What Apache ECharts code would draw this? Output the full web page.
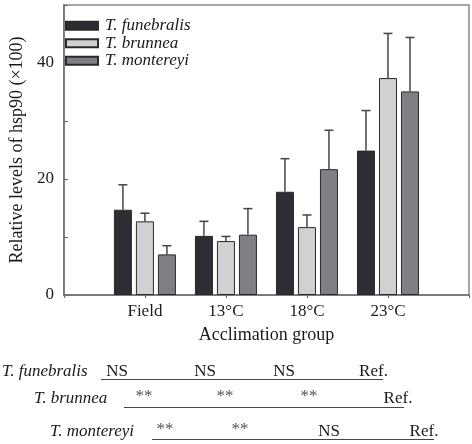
<!DOCTYPE html>
<html>
<head>
<meta charset="utf-8">
<script src="https://cdn.jsdelivr.net/npm/echarts@6/dist/echarts.min.js"></script>
<style>
  html, body { margin: 0; padding: 0; background: #fff; }
  #chart { width: 472px; height: 444px; }
</style>
</head>
<body>
<div id="chart"></div>
<script>
// groups on the x axis (empty slots at both ends keep the spacing of the original)
var groups = ['', 'Field', '13°C', '18°C', '23°C', ''];
var species = ['T. funebralis', 'T. brunnea', 'T. montereyi'];
// mean levels per group (Field, 13, 18, 23)
var funebralis = [14.7, 10.2, 17.8, 24.9];
var brunnea = [12.7, 9.3, 11.7, 37.4];
var montereyi = [7.0, 10.4, 21.7, 35.1];
// top of the error bars
var funebralisErr = [19.0, 12.7, 23.5, 31.8];
var brunneaErr = [14.1, 10.1, 13.8, 45.1];
var montereyiErr = [8.5, 14.9, 28.4, 44.4];
var yTicks = [0, 20, 40];
// significance rows under the chart
var sigRows = [
    ['NS', 'NS', 'NS', 'Ref.'],
    ['**', '**', '**', 'Ref.'],
    ['**', '**', 'NS', 'Ref.']
];

var font = '"Liberation Serif", "DejaVu Serif", serif';
var colors = ['#2d2e33', '#d1d1d3', '#808084'];
var BAR_W = 18, GAP = 4;

function pad(arr) {
    return [null].concat(arr, [null]);
}

function errData(vals, errs) {
    return vals.map(function (v, i) {
        return [groups[i + 1], v, errs[i]];
    });
}

function errSeries(idx, vals, errs) {
    var offset = (idx - 1) * (BAR_W + GAP);
    return {
        type: 'custom',
        z: 5,
        silent: true,
        data: errData(vals, errs),
        renderItem: function (params, api) {
            var base = api.coord([api.value(0), api.value(1)]);
            var top = api.coord([api.value(0), api.value(2)]);
            var x = base[0] + offset;
            var st = { stroke: '#444', lineWidth: 1.5 };
            return {
                type: 'group',
                children: [
                    { type: 'line', shape: { x1: x, y1: base[1], x2: x, y2: top[1] }, style: st },
                    { type: 'line', shape: { x1: x - 4.5, y1: top[1], x2: x + 4.5, y2: top[1] }, style: st }
                ]
            };
        }
    };
}

function barSeries(idx, vals) {
    return {
        name: species[idx],
        type: 'bar',
        barWidth: BAR_W,
        barGap: (GAP / BAR_W * 100) + '%',
        data: pad(vals),
        itemStyle: { color: colors[idx], borderColor: '#2a2a2a', borderWidth: 1 }
    };
}

// bottom annotation layout
var rowSpecies = [
    { x: 2, y: 371.5, line: [101, 383, 379.5], pos: [117, 205, 284, 373.5] },
    { x: 34, y: 399, line: [124, 404, 407.5], pos: [144, 225, 309, 398] },
    { x: 50, y: 431.5, line: [152, 434, 439.5], pos: [165, 240, 329, 424] }
];
var graphics = [];
rowSpecies.forEach(function (r, i) {
    graphics.push({
        type: 'text', x: r.x, y: r.y,
        style: { text: species[i], font: 'italic 17px ' + font, fill: '#1a1a1a', verticalAlign: 'middle' }
    });
    graphics.push({
        type: 'line',
        shape: { x1: r.line[0], y1: r.line[2], x2: r.line[1], y2: r.line[2] },
        style: { stroke: '#444', lineWidth: 1 }
    });
    sigRows[i].forEach(function (t, j) {
        var star = t === '**';
        graphics.push({
            type: 'text', x: r.pos[j], y: star ? r.y - 2 : r.y,
            style: {
                text: t, font: '17px ' + font, fill: star ? '#555' : '#1a1a1a',
                align: 'center', verticalAlign: 'middle'
            }
        });
    });
});

var chart = echarts.init(document.getElementById('chart'));
chart.setOption({
    animation: false,
    backgroundColor: '#fff',
    textStyle: { fontFamily: font },
    grid: {
        left: 57, right: 3, top: 5, bottom: 149,
        show: true, borderColor: '#8a8a8a', borderWidth: 1.5
    },
    legend: {
        orient: 'vertical',
        left: 60, top: 12,
        itemWidth: 32, itemHeight: 8, itemGap: 0,
        icon: 'rect',
        data: species,
        textStyle: { fontFamily: font, fontStyle: 'italic', fontSize: 17, color: '#1a1a1a', lineHeight: 17.5, padding: [0, 0, 0, 2] }
    },
    xAxis: {
        type: 'category',
        data: groups,
        boundaryGap: false,
        name: 'Acclimation group',
        nameLocation: 'middle',
        nameGap: 31,
        nameTextStyle: { fontFamily: font, fontSize: 18, color: '#1a1a1a' },
        axisLine: { lineStyle: { color: '#6e6e6e', width: 1.5 } },
        axisTick: { show: true, length: 3, lineStyle: { color: '#6e6e6e', width: 1.2 } },
        axisLabel: { fontFamily: font, fontSize: 17, color: '#1a1a1a', margin: 8, interval: 0 },
        splitLine: { show: false }
    },
    yAxis: {
        type: 'value',
        min: 0, max: 50, interval: 10,
        name: 'Relative levels of hsp90 (×100)',
        nameLocation: 'middle',
        nameGap: 34,
        nameTextStyle: { fontFamily: font, fontSize: 18, color: '#1a1a1a' },
        axisLine: { show: true, lineStyle: { color: '#6e6e6e', width: 1.5 } },
        axisTick: { show: true, inside: true, length: 4, lineStyle: { color: '#6e6e6e', width: 1.2 } },
        axisLabel: {
            fontFamily: font, fontSize: 17, color: '#1a1a1a', margin: 10,
            formatter: function (v) { return yTicks.indexOf(v) >= 0 ? String(v) : ''; }
        },
        splitLine: { show: false }
    },
    series: [
        barSeries(0, funebralis),
        barSeries(1, brunnea),
        barSeries(2, montereyi),
        errSeries(0, funebralis, funebralisErr),
        errSeries(1, brunnea, brunneaErr),
        errSeries(2, montereyi, montereyiErr)
    ],
    graphic: graphics
});
</script>
</body>
</html>
